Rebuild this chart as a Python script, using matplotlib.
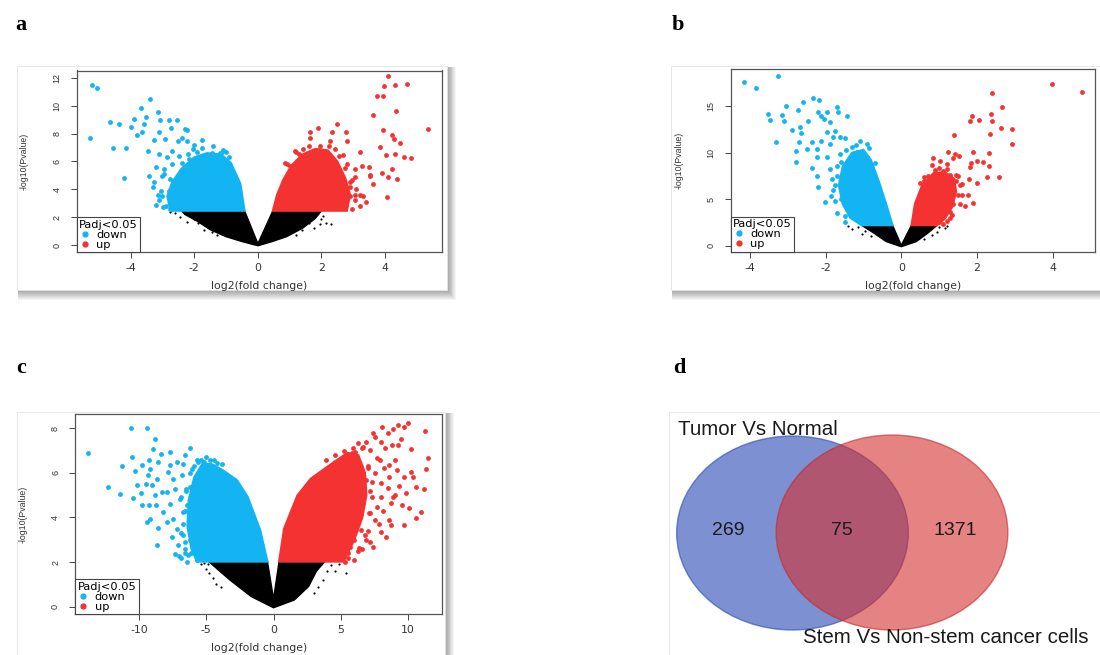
import matplotlib
matplotlib.use("Agg")
import matplotlib.pyplot as plt
from matplotlib.patches import Rectangle, Ellipse
from matplotlib.lines import Line2D

plt.rcParams['font.family'] = ['Liberation Sans', 'DejaVu Sans']
plt.rcParams['axes.unicode_minus'] = False

BLUE = '#12B4F2'
RED = '#F53232'

# ---------------- data : panel a ----------------
a_xticks = [-4, -2, 0, 2, 4]
a_yticks = [0, 2, 4, 6, 8, 10, 12]
a_down_x = [-5.21, -5.06, -5.27, -4.66, -4.37, -4.56, -4.22, -4.14, -3.98, -3.90,
            -3.80, -3.69, -3.66, -3.59, -3.52, -3.38, -3.14, -3.07, -2.80, -2.54,
            -2.72, -2.28, -2.51, -2.23, -1.75, -1.18, -1.60, -3.10, -2.91, -3.27,
            -3.45, -3.12, -3.43, -3.27, -3.01, -2.70, -2.33, -2.96, -2.70, -2.49,
            -2.17, -1.91, -1.39, -2.75, -2.54, -3.22, -2.70, -2.85, -3.01, -2.24,
            -1.45, -1.12, -2.01, -2.40, -1.30, -1.50, -1.70, -2.00, -2.30, -2.60,
            -2.80, -2.60, -2.90, -3.10, -1.10, -1.40, -2.05, -2.40, -0.90, -2.75,
            -3.20, -3.30, -2.95, -2.20, -1.75, -1.00, -3.15, -3.00, -3.05]
a_down_y = [11.50, 11.27, 7.68, 8.85, 8.69, 6.96, 4.79, 6.96, 8.49, 9.05,
            7.90, 9.81, 8.09, 8.69, 9.17, 10.48, 9.57, 9.00, 9.00, 9.00,
            8.38, 8.33, 7.49, 7.49, 7.56, 6.60, 6.30, 8.13, 7.61, 7.56,
            6.77, 6.53, 4.97, 4.50, 3.54, 3.07, 2.82, 5.46, 5.81, 6.41,
            6.17, 6.65, 5.81, 4.74, 4.14, 5.58, 6.77, 6.30, 4.97, 8.28,
            6.60, 6.65, 7.20, 7.68, 6.20, 5.90, 6.00, 5.80, 5.30, 4.60,
            3.90, 3.30, 2.80, 3.20, 6.80, 7.10, 6.90, 5.90, 6.30, 2.60,
            2.90, 4.20, 5.10, 6.50, 7.00, 6.70, 3.60, 2.70, 3.90]
a_up_x = [4.10, 3.97, 4.31, 4.68, 3.76, 3.93, 4.35, 3.63, 4.81, 3.95,
          4.21, 4.28, 4.47, 4.03, 4.31, 4.58, 3.84, 3.90, 4.10, 4.39,
          4.21, 4.05, 3.63, 3.53, 3.48, 2.48, 1.90, 1.64, 2.32, 2.77,
          1.64, 2.27, 2.80, 3.21, 3.27, 3.06, 3.53, 2.90, 3.06, 3.21,
          2.58, 2.90, 1.17, 1.43, 1.01, 1.96, 2.43, 2.69, 2.80, 2.58,
          3.06, 2.37, 1.85, 1.54, 5.35, 2.50, 2.60, 2.70, 2.50, 2.20,
          1.30, 0.90, 2.00, 2.90, 3.30, 2.95, 3.05, 3.10, 2.95, 2.75,
          2.55, 2.25, 1.60, 1.20, 0.85, 3.20, 3.40]
a_up_y = [12.15, 11.44, 11.49, 11.56, 10.67, 10.72, 9.60, 9.35, 6.22, 8.26,
          7.92, 7.61, 7.32, 6.46, 6.53, 6.30, 7.01, 5.17, 4.86, 4.74,
          5.46, 3.42, 4.38, 5.03, 5.58, 8.69, 8.38, 8.13, 8.13, 8.13,
          7.66, 7.49, 7.49, 6.70, 5.69, 5.46, 4.97, 3.54, 3.59, 3.59,
          4.38, 4.50, 6.77, 6.89, 5.69, 7.08, 6.89, 6.46, 5.81, 5.22,
          4.86, 5.46, 6.70, 6.41, 8.30, 3.00, 2.70, 3.90, 4.90, 6.30,
          6.50, 5.80, 6.60, 4.20, 3.50, 2.60, 3.20, 4.00, 4.70, 5.50,
          6.40, 7.10, 7.10, 6.70, 5.90, 2.80, 3.10]
a_ns_x = [-2.78, -2.60, -2.45, -2.24, -2.10, -2.00, -1.90, -1.82, -1.70, -1.60, -1.45,
          -1.30, 1.20, 1.40, 1.60, 1.75, 1.85, 1.95, 2.00, 2.05, 2.15, 2.30]
a_ns_y = [2.40, 2.27, 2.03, 1.67, 2.35, 1.90, 1.60, 2.27, 1.10, 1.40, 0.96,
          0.72, 0.70, 1.10, 1.60, 1.20, 2.30, 1.50, 1.90, 2.10, 1.60, 1.50]
# envelopes of the dense point clouds
a_core_ns_x = [0.0, -0.50, -1.00, -1.50, -1.90, -2.30, -2.40, -0.42, 0.0, 0.47, 2.00, 1.80, 1.40, 0.90, 0.45]
a_core_ns_y = [-0.05, 0.25, 0.60, 1.10, 1.70, 2.20, 2.46, 2.46, 0.10, 2.46, 2.46, 1.90, 1.20, 0.60, 0.25]
a_core_down_x = [-0.42, -0.55, -0.85, -1.15, -1.60, -2.00, -2.40, -2.70, -2.85, -2.75]
a_core_down_y = [2.46, 4.40, 5.90, 6.50, 6.60, 6.30, 5.50, 4.50, 3.50, 2.46]
a_core_up_x = [0.47, 0.60, 0.80, 1.05, 1.40, 1.80, 2.20, 2.50, 2.75, 2.90, 2.80]
a_core_up_y = [2.46, 3.60, 4.70, 5.70, 6.50, 6.90, 6.80, 6.00, 4.80, 3.60, 2.46]

# ---------------- data : panel b ----------------
b_xticks = [-4, -2, 0, 2, 4]
b_yticks = [0, 5, 10, 15]
b_down_x = [-4.16, -3.25, -3.83, -3.31, -2.77, -2.02, -3.52, -3.47, -3.05, -3.16,
            -3.10, -2.90, -2.72, -2.59, -2.34, -2.17, -2.68, -2.65, -2.70, -2.77,
            -2.46, -2.49, -2.37, -2.22, -2.37, -2.22, -2.11, -2.04, -1.97, -1.89,
            -1.71, -1.67, -1.44, -1.97, -1.75, -1.62, -2.11, -1.89, -2.24, -1.97,
            -1.89, -2.20, -1.71, -1.53, -1.84, -1.44, -1.18, -1.36, -1.27, -1.62,
            -0.90, -1.10, -1.20, -1.00, -1.50, -1.60, -1.40, -1.20, -1.50, -0.85,
            -1.30, -1.55, -1.10, -0.70, -1.35, -1.75, -1.80, -1.49, -2.19, -1.70,
            -1.75, -1.80, -1.70, -1.60, -1.45, -1.20, -0.90, -1.85, -1.50]
b_down_y = [17.62, 18.26, 16.90, 11.17, 8.96, 4.66, 14.15, 13.53, 15.04, 14.07,
            13.43, 12.43, 14.61, 15.47, 15.90, 15.68, 12.72, 12.07, 11.10, 10.20,
            13.43, 10.39, 8.31, 7.52, 11.17, 10.39, 13.96, 13.61, 14.33, 13.25,
            14.87, 14.33, 13.96, 12.18, 12.35, 11.64, 11.28, 10.92, 9.50, 9.50,
            8.24, 6.27, 8.60, 7.16, 7.16, 3.94, 10.03, 9.31, 8.24, 9.85,
            9.50, 9.00, 7.80, 7.60, 6.00, 5.00, 4.20, 3.00, 3.20, 10.50,
            10.60, 8.00, 11.20, 8.90, 5.70, 6.50, 11.71, 11.53, 14.40, 3.50,
            4.80, 6.00, 7.50, 9.00, 10.30, 10.80, 10.90, 5.30, 2.50]
b_up_x = [3.99, 4.77, 2.41, 2.67, 1.86, 1.82, 2.06, 2.37, 2.39, 2.64,
          2.92, 2.35, 2.92, 1.40, 2.32, 1.90, 2.01, 2.15, 2.33, 1.84,
          1.82, 1.23, 1.42, 1.53, 0.85, 1.02, 1.20, 1.38, 0.80, 1.01,
          2.26, 2.57, 1.99, 1.77, 1.69, 1.90, 1.80, 1.60, 0.71, 0.89,
          1.29, 1.51, 1.38, 1.38, 1.29, 1.20, 1.11, 1.02, 0.50, 0.70,
          1.45, 1.50, 1.30, 1.00, 0.60, 1.10, 1.35, 1.55, 1.60, 1.55,
          1.45, 1.20, 0.90, 0.60]
b_up_y = [17.37, 16.54, 16.37, 14.87, 13.96, 13.43, 13.50, 14.15, 13.43, 12.64,
          12.54, 12.00, 10.92, 11.89, 9.92, 10.10, 9.13, 8.96, 8.60, 8.85,
          8.42, 10.03, 9.85, 9.67, 9.39, 9.13, 8.78, 9.39, 8.67, 8.35,
          7.35, 7.35, 6.74, 5.48, 4.30, 4.55, 7.16, 6.63, 7.52, 7.16,
          7.59, 7.52, 6.81, 4.48, 3.59, 2.69, 2.33, 5.37, 6.70, 6.90,
          6.90, 5.40, 3.00, 2.60, 7.40, 8.00, 3.30, 4.50, 5.50, 6.50,
          7.60, 8.20, 8.10, 7.00]
b_ns_x = [-1.40, -1.30, -1.15, -1.05, -0.95, -0.80, 0.60, 0.80, 0.95, 1.00, 1.15, 1.20]
b_ns_y = [2.10, 1.85, 2.00, 1.30, 1.60, 1.00, 0.70, 1.10, 1.50, 2.00, 1.90, 2.10]
b_core_ns_x = [0.0, -0.40, -0.72, -1.05, -0.23, 0.0, 0.27, 0.95, 0.70, 0.40]
b_core_ns_y = [-0.10, 0.45, 1.35, 2.20, 2.20, 0.05, 2.20, 2.20, 1.35, 0.45]
b_core_down_x = [-0.23, -0.40, -0.60, -0.80, -1.00, -1.30, -1.55, -1.65, -1.55, -1.35, -1.05]
b_core_down_y = [2.20, 4.50, 7.00, 9.20, 10.30, 10.00, 8.50, 6.50, 4.50, 3.00, 2.20]
b_core_up_x = [0.27, 0.36, 0.55, 0.85, 1.15, 1.40, 1.45, 1.35, 1.15, 0.95]
b_core_up_y = [2.20, 4.50, 6.50, 7.80, 7.90, 7.20, 5.80, 4.20, 2.90, 2.20]

# ---------------- data : panel c ----------------
c_xticks = [-10, -5, 0, 5, 10]
c_yticks = [0, 2, 4, 6, 8]
c_down_x = [-13.76, -10.61, -9.42, -8.80, -8.97, -8.36, -7.69, -6.21, -12.32, -11.40,
            -11.23, -10.54, -10.29, -9.79, -9.22, -9.17, -8.55, -9.30, -9.47, -10.17,
            -9.87, -10.41, -9.05, -8.63, -8.80, -8.31, -9.79, -9.22, -8.73, -9.17,
            -9.37, -8.56, -8.63, -7.94, -8.19, -7.69, -7.19, -6.70, -7.81, -7.44,
            -7.32, -6.95, -7.69, -7.94, -7.44, -7.19, -6.70, -6.45, -7.57, -7.07,
            -7.32, -6.57, -6.33, -6.45, -5.71, -5.71, -5.96, -6.21, -5.84, -6.08,
            -5.59, -6.57, -6.80, -6.50, -6.90, -6.20, -6.60, -6.00, -6.30, -6.90,
            -7.00, -6.70, -6.10, -5.90, -5.40, -4.70, -4.20, -5.20, -6.60, -6.70,
            -6.60, -6.50, -6.20, -5.70, -5.00, -4.40, -3.80, -6.90]
c_down_y = [6.91, 8.01, 8.01, 7.50, 7.06, 6.86, 6.94, 7.12, 5.35, 5.07,
            6.31, 6.71, 6.07, 6.34, 6.56, 6.16, 6.49, 5.89, 5.52, 5.47,
            5.11, 4.87, 5.47, 5.74, 5.02, 5.14, 4.57, 4.57, 4.57, 3.95,
            3.80, 3.53, 2.75, 5.14, 4.25, 6.34, 6.49, 6.41, 6.04, 5.74,
            5.29, 4.84, 4.62, 3.80, 3.95, 3.50, 4.25, 4.54, 3.12, 2.75,
            2.38, 2.90, 2.30, 2.00, 2.08, 2.75, 3.65, 5.37, 5.74, 6.19,
            6.49, 6.79, 5.90, 5.20, 3.30, 3.00, 2.60, 4.70, 4.00, 2.20,
            2.25, 3.70, 2.40, 6.30, 6.60, 6.60, 6.45, 6.50, 2.40, 3.20,
            4.30, 5.30, 6.00, 6.60, 6.70, 6.60, 6.40, 4.90]
c_up_x = [10.00, 9.68, 9.23, 8.88, 11.23, 9.49, 8.83, 9.28, 10.21, 11.49,
          11.36, 10.21, 9.68, 10.35, 9.15, 8.61, 10.61, 11.15, 9.81, 9.01,
          8.48, 8.75, 9.55, 10.08, 10.93, 10.61, 9.68, 8.75, 8.35, 7.95,
          7.55, 7.68, 7.15, 7.28, 7.95, 7.55, 8.21, 7.68, 7.15, 7.95,
          7.55, 6.88, 6.61, 6.08, 5.95, 6.48, 6.88, 6.21, 6.61, 6.08,
          6.48, 5.95, 6.88, 7.41, 6.35, 5.55, 5.28, 5.68, 6.48, 5.28,
          5.41, 5.68, 5.28, 5.01, 8.08, 8.48, 7.00, 7.30, 6.60, 7.90,
          8.30, 8.60, 8.90, 8.10, 7.80, 7.00, 6.60, 6.20, 5.80, 6.30,
          7.40, 8.00, 9.30, 9.00, 8.60, 7.20, 5.50, 6.30, 6.80, 7.10,
          7.20, 7.00, 6.60, 5.90, 5.20, 4.60, 3.90, 6.00]
c_up_y = [8.25, 8.07, 8.15, 7.95, 7.89, 7.52, 7.25, 7.25, 7.06, 6.68,
          6.16, 6.05, 5.83, 5.83, 6.13, 6.35, 5.38, 5.26, 5.08, 5.01,
          5.31, 4.63, 4.56, 4.41, 4.26, 3.96, 3.66, 3.66, 3.14, 3.36,
          3.89, 4.48, 4.19, 4.93, 5.53, 5.98, 6.20, 6.65, 7.03, 7.40,
          7.59, 7.40, 7.17, 6.95, 6.58, 6.28, 5.68, 5.23, 4.63, 3.89,
          3.44, 2.99, 2.99, 2.69, 2.62, 2.39, 2.02, 2.69, 4.26, 5.98,
          5.38, 4.78, 4.19, 3.59, 8.07, 7.77, 6.20, 5.60, 5.90, 6.60,
          7.10, 5.80, 4.90, 4.30, 3.70, 3.40, 2.60, 5.60, 6.90, 7.35,
          7.80, 4.90, 5.40, 6.60, 3.90, 2.90, 2.20, 2.50, 3.20, 4.20,
          5.20, 6.30, 7.10, 7.10, 7.00, 6.80, 6.60, 2.10]
c_ns_x = [-5.40, -5.20, -5.00, -4.80, -4.50, -4.30, -3.90, -4.90, 3.00, 3.30,
          3.50, 3.70, 4.00, 4.30, 4.60, 4.90, 5.41]
c_ns_y = [1.90, 1.95, 1.70, 1.50, 1.30, 1.00, 0.90, 1.90, 0.60, 0.90,
          1.90, 1.20, 1.60, 1.85, 1.60, 1.90, 1.52]
c_core_ns_x = [0.0, -1.65, -3.25, -4.30, -4.80, -0.45, 0.0, 0.41, 3.80, 3.20, 2.60, 1.55]
c_core_ns_y = [-0.05, 0.45, 1.20, 1.75, 2.02, 2.02, 0.35, 2.02, 2.02, 1.60, 0.90, 0.30]
c_core_down_x = [-0.45, -0.99, -1.92, -2.72, -3.79, -4.60, -5.30, -5.90, -6.30, -6.40, -6.10, -5.70]
c_core_down_y = [2.02, 3.44, 4.93, 5.68, 6.13, 6.40, 6.40, 5.80, 4.80, 3.60, 2.60, 2.02]
c_core_up_x = [0.41, 0.78, 1.77, 2.76, 4.49, 5.50, 6.30, 6.80, 6.90, 6.60, 6.00, 5.20]
c_core_up_y = [2.02, 3.50, 4.99, 5.74, 6.49, 6.90, 6.80, 6.00, 5.00, 4.00, 3.00, 2.02]

# ---------------- data : panel d ----------------
venn_names = ['Tumor Vs Normal', 'Stem Vs Non-stem cancer cells']
venn_counts = [269, 75, 1371]

legend_title = 'Padj<0.05'
legend_labels = ['down', 'up']
x_label = 'log2(fold change)'
y_label = '-log10(Pvalue)'

# ---------------- figure ----------------
W, H = 1100, 655
fig = plt.figure(figsize=(11, 6.55), dpi=100)
fig.patch.set_facecolor('white')


def fx(px):
    return px / W


def fy(py):
    return 1 - py / H


def card(l, t, r, b):
    for i in range(1, 11):
        fig.add_artist(Rectangle((fx(l + 1), fy(b + i)), fx(r + i * 0.9) - fx(l + 1),
                                 fy(t + 1) - fy(b + i), transform=fig.transFigure,
                                 facecolor='black', alpha=0.04, lw=0, zorder=-10))
    fig.add_artist(Rectangle((fx(l), fy(b)), fx(r) - fx(l), fy(t) - fy(b),
                             transform=fig.transFigure, facecolor='white',
                             edgecolor='#e4e4e4', lw=0.6, zorder=-5))


card(17, 66, 447, 290)
card(671, 66, 1115, 290)
card(17, 412, 445, 670)
card(669, 412, 1115, 670)


def volcano(rect, xlim, ylim, xticks, yticks, ns, down, up, cns, cdown, cup,
            ylab_x, xlab_y):
    ax = fig.add_axes(rect)
    ax.fill(cns[0], cns[1], facecolor='black', edgecolor='black', lw=1.0, zorder=1)
    ax.scatter(ns[0], ns[1], s=2.5, c='black', lw=0, zorder=2)
    ax.fill(cdown[0], cdown[1], facecolor=BLUE, edgecolor=BLUE, lw=1.5, zorder=3)
    ax.fill(cup[0], cup[1], facecolor=RED, edgecolor=RED, lw=1.5, zorder=3)
    ax.scatter(down[0], down[1], s=12, c=BLUE, lw=0, zorder=4)
    ax.scatter(up[0], up[1], s=12, c=RED, lw=0, zorder=4)
    ax.set_xlim(xlim)
    ax.set_ylim(ylim)
    ax.set_xticks(xticks, labels=[str(t) for t in xticks],
                  fontfamily='DejaVu Sans', fontsize=7.8, color='#333333')
    ax.set_yticks(yticks, labels=[str(t) for t in yticks],
                  fontfamily='Liberation Sans', fontsize=6.5, color='#333333',
                  rotation=90, va='center')
    ax.tick_params(axis='x', length=4, width=0.7, color='#444444', pad=4)
    ax.tick_params(axis='y', length=4, width=0.7, color='#444444', pad=7)
    for sp in ax.spines.values():
        sp.set_color('#555555')
        sp.set_linewidth(0.9)
    ax.set_xlabel(x_label, fontfamily='DejaVu Sans', fontsize=7.8, color='#333333')
    ax.set_ylabel(y_label, fontfamily='Liberation Sans', fontsize=6.3, color='#333333')
    ax.xaxis.set_label_coords(0.5, xlab_y)
    ax.yaxis.set_label_coords(ylab_x, 0.5)
    handles = [Line2D([], [], marker='o', ls='', color=BLUE, ms=3.5, label=legend_labels[0]),
               Line2D([], [], marker='o', ls='', color=RED, ms=3.5, label=legend_labels[1])]
    leg = ax.legend(handles=handles, title=legend_title, loc='lower left',
                    borderaxespad=0, frameon=True, fancybox=False, framealpha=1,
                    edgecolor='#444444', prop={'family': 'DejaVu Sans', 'size': 8.2},
                    title_fontproperties={'family': 'DejaVu Sans', 'size': 8.2},
                    handlelength=1.0, handletextpad=0.5, borderpad=0.2,
                    labelspacing=0.0, alignment='left')
    leg.get_frame().set_linewidth(0.8)
    leg.set_zorder(10)
    return ax


# panel a
volcano([fx(77), fy(252), fx(442) - fx(77), fy(70.5) - fy(252)],
        (-5.69, 5.79), (-0.50, 12.53), a_xticks, a_yticks,
        (a_ns_x, a_ns_y), (a_down_x, a_down_y), (a_up_x, a_up_y),
        (a_core_ns_x, a_core_ns_y), (a_core_down_x, a_core_down_y),
        (a_core_up_x, a_core_up_y), -0.1315, -0.16)
# panel b
volcano([fx(731), fy(251.7), fx(1095) - fx(731), fy(69) - fy(251.7)],
        (-4.50, 5.12), (-0.64, 18.98), b_xticks, b_yticks,
        (b_ns_x, b_ns_y), (b_down_x, b_down_y), (b_up_x, b_up_y),
        (b_core_ns_x, b_core_ns_y), (b_core_down_x, b_core_down_y),
        (b_core_up_x, b_core_up_y), -0.129, -0.16)
# panel c
volcano([fx(75.4), fy(614), fx(442.2) - fx(75.4), fy(414.3) - fy(614)],
        (-14.72, 12.53), (-0.33, 8.63), c_xticks, c_yticks,
        (c_ns_x, c_ns_y), (c_down_x, c_down_y), (c_up_x, c_up_y),
        (c_core_ns_x, c_core_ns_y), (c_core_down_x, c_core_down_y),
        (c_core_up_x, c_core_up_y), -0.131, -0.145)

# panel d (Venn)
axd = fig.add_axes([fx(670), fy(655), fx(1100) - fx(670), fy(412) - fy(655)])
axd.set_xlim(0, 430)
axd.set_ylim(0, 243)
axd.axis('off')
axd.add_patch(Ellipse((122.5, 122), 231.7, 194, facecolor='#2648B4', alpha=0.6,
                      edgecolor='#2648B4', lw=1.0))
axd.add_patch(Ellipse((222, 122.5), 231.7, 195, facecolor='#D52F2F', alpha=0.6,
                      edgecolor='#C22A2A', lw=1.0))
axd.text(8, 225, venn_names[0], fontsize=14.8, ha='left', va='center', color='#1a1a1a')
axd.text(132.7, 17.7, venn_names[1], fontsize=14.8, ha='left', va='center', color='#1a1a1a')
axd.text(58, 124.3, str(venn_counts[0]), fontsize=14, ha='center', va='center', color='#1a1a1a')
axd.text(171.7, 124.3, str(venn_counts[1]), fontsize=14, ha='center', va='center', color='#1a1a1a')
axd.text(285, 124.3, str(venn_counts[2]), fontsize=14, ha='center', va='center', color='#1a1a1a')

# panel letters
for letter, (px, py) in zip('abcd', [(21, 25), (678, 25), (21, 368), (679, 368)]):
    fig.text(fx(px), fy(py), letter, fontfamily='Liberation Serif', fontweight='bold',
             fontsize=16, ha='center', va='center')

fig.savefig('out.png', dpi=100, facecolor='white')
